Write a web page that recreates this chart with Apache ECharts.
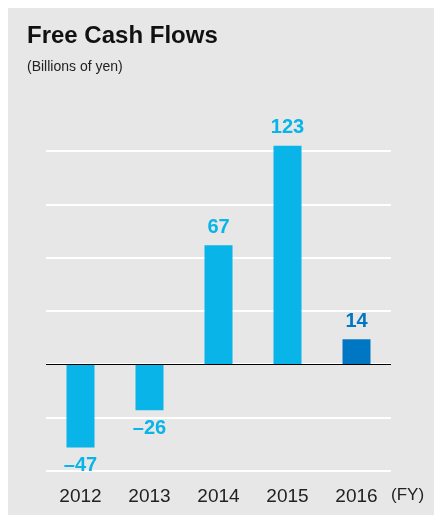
<!DOCTYPE html>
<html>
<head>
<meta charset="utf-8">
<script src="https://cdn.jsdelivr.net/npm/echarts@6/dist/echarts.min.js"></script>
<style>
html,body{margin:0;padding:0;background:#fff;}
#c{width:434px;height:515px;}
</style>
</head>
<body>
<div id="c"></div>
<script>
var categories = ['2012', '2013', '2014', '2015', '2016'];
var values = [-47, -26, 67, 123, 14];
var valueLabels = ['\u201347', '\u201326', '67', '123', '14'];
var highlightIndex = 4;
var yTicks = [-60, -30, 0, 30, 60, 90, 120];

var cyan = '#08b4e8';
var dark = '#0077c2';

var chart = echarts.init(document.getElementById('c'));
chart.setOption({
  backgroundColor: '#ffffff',
  animation: false,
  graphic: [
    { type: 'rect', z: -10, shape: { x: 8, y: 8, width: 426, height: 507 }, style: { fill: '#e7e7e7' } },
    { type: 'text', left: 391, top: 487, style: { text: '(FY)', fill: '#222', font: '17px "Liberation Sans", Arial, sans-serif' } }
  ],
  title: [
    { text: 'Free Cash Flows', left: 27, top: 24, padding: 0, textStyle: { fontFamily: '"Liberation Sans", Arial, sans-serif', fontSize: 24, fontWeight: 'bold', color: '#111' } },
    { text: '(Billions of yen)', left: 27, top: 60, padding: 0, textStyle: { fontFamily: '"Liberation Sans", Arial, sans-serif', fontSize: 14, fontWeight: 'normal', color: '#222' } }
  ],
  grid: { left: 46, right: 43, top: 151, bottom: 44.3, containLabel: false },
  xAxis: {
    type: 'category',
    data: categories,
    axisLine: { show: false },
    axisTick: { show: false },
    axisLabel: { margin: 17, fontSize: 19, color: '#222', fontFamily: '"Liberation Sans", Arial, sans-serif' },
    splitLine: { show: false }
  },
  yAxis: {
    type: 'value',
    min: yTicks[0],
    max: yTicks[yTicks.length - 1],
    interval: 30,
    axisLine: { show: false },
    axisTick: { show: false },
    axisLabel: { show: false },
    splitLine: { lineStyle: { color: '#ffffff', width: 2 } }
  },
  series: [{
    type: 'bar',
    clip: false,
    barWidth: 28,
    data: values.map(function (v, i) {
      return {
        value: v,
        itemStyle: { color: i === highlightIndex ? dark : cyan },
        label: {
          show: true,
          position: v < 0 ? 'bottom' : 'top',
          distance: 8,
          formatter: valueLabels[i],
          color: i === highlightIndex ? dark : cyan,
          fontSize: 20,
          fontWeight: 'bold',
          fontFamily: '"Liberation Sans", Arial, sans-serif'
        }
      };
    }),
    markLine: {
      silent: true,
      symbol: 'none',
      label: { show: false },
      lineStyle: { color: '#000', width: 1, type: 'solid' },
      data: [{ yAxis: 0 }]
    }
  }]
});
</script>
</body>
</html>
